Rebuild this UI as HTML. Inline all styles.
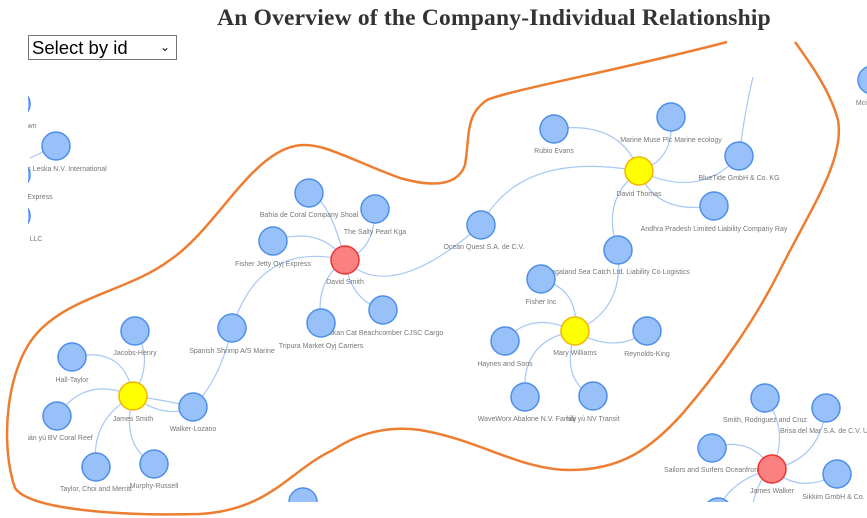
<!DOCTYPE html>
<html><head><meta charset="utf-8"><style>
body{margin:0;width:867px;height:518px;background:#fff;overflow:hidden;position:relative;font-family:"Liberation Sans",sans-serif}
h1{position:absolute;left:0;width:988px;top:5px;margin:0;text-align:center;font-family:"Liberation Serif",serif;font-size:23.5px;font-weight:bold;color:#333;letter-spacing:0.2px}
.sel{position:absolute;left:28px;top:35px;width:149px;height:25px;border:1px solid #767676;box-sizing:border-box;font-size:18.5px;line-height:23px;padding-left:3px;color:#000}
.sel span{position:absolute;right:6px;top:0;font-size:12px}
svg{position:absolute;left:0;top:0}
text{font-family:"Liberation Sans","Noto Sans CJK SC",sans-serif;font-size:7px;fill:#777;text-anchor:middle}
.e{fill:none;stroke:#a8c8f5;stroke-width:1.2}
.n{fill:#98c1fa;stroke:#4d8ee8;stroke-width:1.5}
.y{fill:#ffff00;stroke:#f5b400;stroke-width:1.5}
.r{fill:#fb8080;stroke:#ee3333;stroke-width:1.5}
</style></head><body>
<h1>An Overview of the Company-Individual Relationship</h1>
<div class="sel">Select by id<span>&#8964;</span></div>
<svg width="867" height="518">
<defs><clipPath id="c"><rect x="28" y="60" width="839" height="442"/></clipPath></defs>
<g clip-path="url(#c)">
<path class="e" d="M345,260 Q330,200 309,193"/>
<path class="e" d="M345,260 Q375,250 375,209"/>
<path class="e" d="M345,260 Q320,225 273,241"/>
<path class="e" d="M345,260 Q350,300 383,310"/>
<path class="e" d="M345,260 Q315,280 321,323"/>
<path class="e" d="M345,260 Q260,240 232,328"/>
<path class="e" d="M345,260 Q390,305 481,225"/>
<path class="e" d="M232,328 Q220,380 193,407"/>
<path class="e" d="M481,225 Q520,150 639,171"/>
<path class="e" d="M639,171 Q620,120 554,129"/>
<path class="e" d="M639,171 Q675,160 671,117"/>
<path class="e" d="M639,171 Q700,200 739,156"/>
<path class="e" d="M739,156 Q745,110 753,77"/>
<path class="e" d="M639,171 Q655,215 714,206"/>
<path class="e" d="M639,171 Q600,200 618,250"/>
<path class="e" d="M618,250 Q625,310 575,331"/>
<path class="e" d="M575,331 Q580,290 541,279"/>
<path class="e" d="M575,331 Q530,310 505,341"/>
<path class="e" d="M575,331 Q615,355 647,331"/>
<path class="e" d="M575,331 Q520,340 525,397"/>
<path class="e" d="M575,331 Q560,380 593,396"/>
<path class="e" d="M133,396 Q125,345 72,357"/>
<path class="e" d="M133,396 Q155,360 135,331"/>
<path class="e" d="M133,396 Q85,375 57,416"/>
<path class="e" d="M133,396 Q90,420 96,467"/>
<path class="e" d="M133,396 Q120,445 154,464"/>
<path class="e" d="M133,396 Q165,420 193,407"/>
<path class="e" d="M133,396 Q165,400 193,407"/>
<path class="e" d="M56,146 L30,158"/>
<path class="e" d="M772,469 Q790,430 765,398"/>
<path class="e" d="M772,469 Q820,460 826,408"/>
<path class="e" d="M772,469 Q750,435 712,448"/>
<path class="e" d="M772,469 Q800,495 837,474"/>
<path class="e" d="M772,469 Q730,480 718,510"/>
<path class="e" d="M772,469 Q755,480 750,520"/>
<circle class="n" cx="16" cy="104" r="14"/><text x="32" y="128">wn</text>
<circle class="n" cx="56" cy="146" r="14"/><text x="67" y="171">s  Leska N.V. International</text>
<circle class="n" cx="16" cy="175" r="14"/><text x="40" y="199">Express</text>
<circle class="n" cx="16" cy="216" r="14"/><text x="36" y="241">LLC</text>
<circle class="n" cx="872" cy="80" r="14"/><text x="866" y="105">Mcinty</text>
<circle class="n" cx="309" cy="193" r="14"/><text x="309" y="217">Bahía de Coral Company Shoal</text>
<circle class="n" cx="375" cy="209" r="14"/><text x="375" y="234">The Salty Pearl Kga</text>
<circle class="n" cx="273" cy="241" r="14"/><text x="273" y="266">Fisher Jetty Oyj Express</text>
<circle class="n" cx="383" cy="310" r="14"/><text x="383" y="335">Balkan Cat Beachcomber CJSC Cargo</text>
<circle class="n" cx="321" cy="323" r="14"/><text x="321" y="348">Tripura  Market Oyj Carriers</text>
<circle class="n" cx="232" cy="328" r="14"/><text x="232" y="353">Spanish Shrimp A/S Marine</text>
<circle class="n" cx="481" cy="225" r="14"/><text x="484" y="249">Ocean Quest S.A. de C.V.</text>
<circle class="r" cx="345" cy="260" r="14"/><text x="345" y="284">David Smith</text>
<circle class="n" cx="554" cy="129" r="14"/><text x="554" y="153">Rubio Evans</text>
<circle class="n" cx="671" cy="117" r="14"/><text x="671" y="142">Marine Muse Plc Marine ecology</text>
<circle class="n" cx="739" cy="156" r="14"/><text x="739" y="180">BlueTide GmbH &amp; Co. KG</text>
<circle class="n" cx="714" cy="206" r="14"/><text x="714" y="231">Andhra Pradesh  Limited Liability Company Ray</text>
<circle class="n" cx="618" cy="250" r="14"/><text x="618" y="274">Nagaland Sea Catch Ltd. Liability Co Logistics</text>
<circle class="y" cx="639" cy="171" r="14"/><text x="639" y="196">David Thomas</text>
<circle class="n" cx="541" cy="279" r="14"/><text x="541" y="304">Fisher Inc</text>
<circle class="n" cx="505" cy="341" r="14"/><text x="505" y="366">Haynes and Sons</text>
<circle class="n" cx="647" cy="331" r="14"/><text x="647" y="356">Reynolds-King</text>
<circle class="n" cx="525" cy="397" r="14"/><text x="527" y="421">WaveWorx Abalone N.V. Family</text>
<circle class="n" cx="593" cy="396" r="14"/><text x="593" y="421">hǎi yú NV Transit</text>
<circle class="y" cx="575" cy="331" r="14"/><text x="575" y="355">Mary Williams</text>
<circle class="n" cx="135" cy="331" r="14"/><text x="135" y="355">Jacobs-Henry</text>
<circle class="n" cx="72" cy="357" r="14"/><text x="72" y="382">Hall-Taylor</text>
<circle class="n" cx="57" cy="416" r="14"/><text x="60" y="440">ián yú BV Coral Reef</text>
<circle class="n" cx="96" cy="467" r="14"/><text x="96" y="491">Taylor, Choi and Merritt</text>
<circle class="n" cx="154" cy="464" r="14"/><text x="154" y="488">Murphy-Russell</text>
<circle class="n" cx="193" cy="407" r="14"/><text x="193" y="431">Walker-Lozano</text>
<circle class="y" cx="133" cy="396" r="14"/><text x="133" y="421">James Smith</text>
<circle class="n" cx="303" cy="502" r="14"/>
<circle class="n" cx="765" cy="398" r="14"/><text x="765" y="422">Smith, Rodriguez and Cruz</text>
<circle class="n" cx="826" cy="408" r="14"/><text x="826" y="433">Brisa del Mar S.A. de C.V. Un</text>
<circle class="n" cx="712" cy="448" r="14"/><text x="712" y="472">Sailors and Surfers Oceanfront</text>
<circle class="n" cx="837" cy="474" r="14"/><text x="837" y="499">Sikkim  GmbH &amp; Co. H</text>
<circle class="n" cx="718" cy="512" r="14"/>
<circle class="r" cx="772" cy="469" r="14"/><text x="772" y="493">James Walker</text>
</g>
<path fill="none" stroke="#ed7d31" stroke-width="2.5" d="M727,42 C620,70 510,90 487,100 C465,115 470,135 465,165 C458,185 435,188 400,178 C350,160 320,140 295,146 C250,155 215,230 170,260 C130,290 75,295 40,330 C5,365 0,445 15,488 C30,510 120,516 200,514 C270,510 290,470 333,450 C360,432 390,426 420,430 C480,440 520,470 570,470 C620,470 650,450 683,413 C720,370 755,320 780,270 C810,210 845,160 838,120 C830,90 808,60 795,42"/>
</svg>
</body></html>
